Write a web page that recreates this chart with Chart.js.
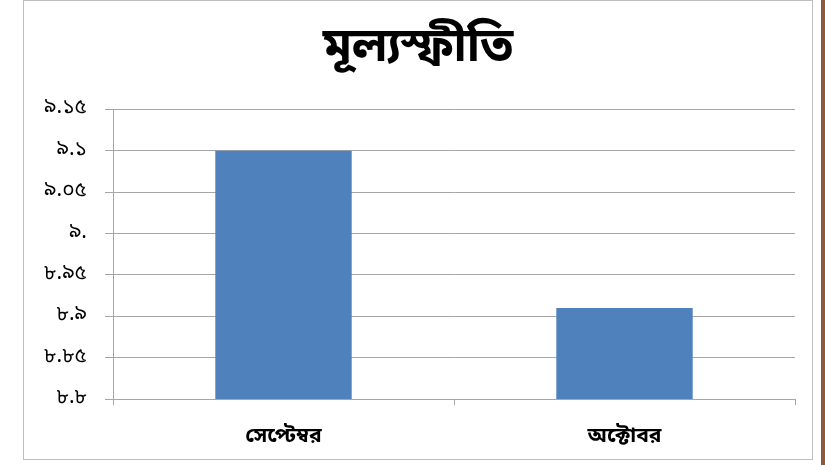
<!DOCTYPE html>
<html>
<head>
<meta charset="utf-8">
<script src="https://cdn.jsdelivr.net/npm/chart.js@4"></script>
<style>
  body { margin: 0; background: #fff; }
  #wrap {
    position: absolute; left: 23px; top: 0px;
    width: 790px; height: 460px;
    border: 1px solid #bfbfbf; box-sizing: border-box;
    background: #fff;
  }
  #edge { position: absolute; left: 821px; top: 0; width: 4px; height: 465px; background: #8a5a3a; }
</style>
</head>
<body>
<div id="wrap"><canvas id="graficoInflacao" width="788" height="458"></canvas></div>
<div id="edge"></div>
<script>
// dados do gráfico
const titulo = 'মূল্যস্ফীতি';
const meses = ['সেপ্টেম্বর', 'অক্টোবর'];
const inflacao = [9.1, 8.91];
const rotulosEixoY = ['৮.৮', '৮.৮৫', '৮.৯', '৮.৯৫', '৯.', '৯.০৫', '৯.১', '৯.১৫'];

const fonte = '"Noto Sans Bengali", "Noto Sans", "DejaVu Sans", sans-serif';

const config = {
    type: 'bar',
    data: {
        labels: meses,
        datasets: [{
            label: titulo,
            data: inflacao,
            backgroundColor: '#4f81bd',
            borderWidth: 0,
            categoryPercentage: 0.8,
            barPercentage: 0.5
        }]
    },
    options: {
        responsive: false,
        animation: false,
        // padding igual dos dois lados para o título ficar centralizado no quadro
        layout: { padding: { top: 0, right: 17, bottom: 0, left: 17 } },
        plugins: {
            legend: { display: false },
            tooltip: { enabled: false },
            title: {
                display: true,
                text: titulo,
                color: '#000',
                font: { family: fonte, size: 47, weight: 'bold' },
                padding: { top: 23, bottom: 29 }
            }
        },
        scales: {
            x: {
                grid: { display: true, offset: true, drawOnChartArea: false, color: '#a6a6a6', tickLength: 6 },
                border: { color: '#a6a6a6' },
                ticks: { color: '#000', padding: 20, font: { family: fonte, size: 21, weight: 'bold' } },
                afterFit: function (scale) { scale.height = 60; }
            },
            y: {
                min: 8.8,
                max: 9.15,
                grid: { color: '#a6a6a6', tickLength: 8 },
                border: { color: '#a6a6a6' },
                ticks: {
                    stepSize: 0.05,
                    color: '#000',
                    padding: 18,
                    font: { family: fonte, size: 21 },
                    callback: function (valor, indice) { return rotulosEixoY[indice]; }
                },
                afterFit: function (scale) { scale.width = 72; }
            }
        }
    }
};

let grafico = new Chart(document.getElementById('graficoInflacao'), config);
</script>
</body>
</html>
